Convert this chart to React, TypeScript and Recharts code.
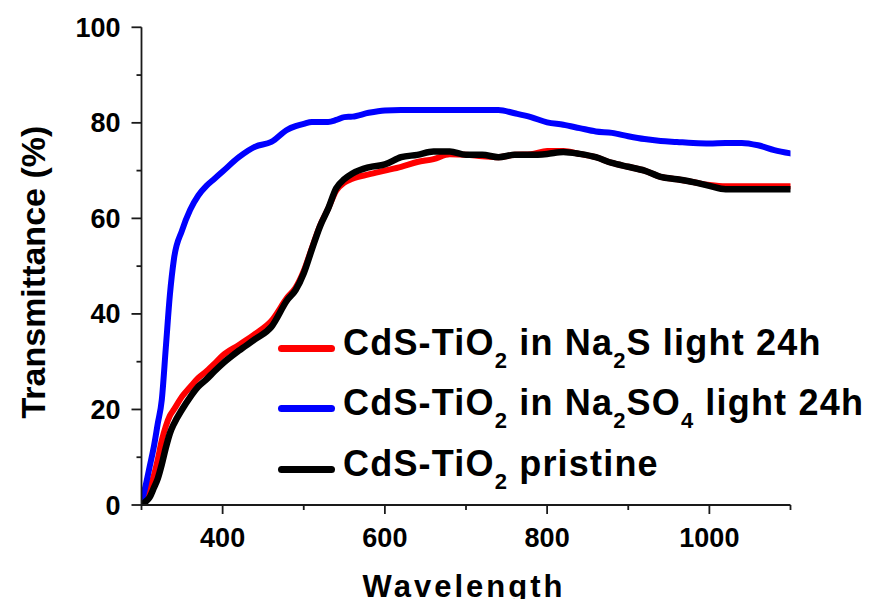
import React from 'react';
import { LineChart, Line, XAxis, YAxis, Legend, Label } from 'recharts';

const wavelengths = [300, 305, 310, 315, 320, 325, 330, 335, 340, 350, 360, 370, 380, 390, 400, 420, 440, 460, 480, 490, 500, 510, 520, 530, 540, 550, 560, 580, 600, 620, 640, 660, 680, 700, 720, 740, 760, 780, 800, 820, 840, 860, 880, 900, 920, 940, 960, 980, 1000, 1020, 1040, 1060, 1080, 1100];

const naSValues = [0.3, 1.5, 3.5, 6, 9.5, 13.5, 16.5, 18.7, 20, 22.7, 24.7, 26.6, 28, 29.6, 31.3, 33.5, 35.8, 38.5, 43.5, 45.5, 49, 53.8, 58.5, 62, 65.8, 67.5, 68.3, 69.2, 70, 70.8, 71.8, 72.4, 73.4, 73.3, 73, 72.8, 73.3, 73.4, 74.1, 74.1, 73.5, 72.8, 71.6, 70.8, 70, 68.7, 68.2, 67.6, 67, 66.7, 66.7, 66.7, 66.7, 66.7];

const naSO4Values = [0.5, 4, 8, 12, 17, 22, 33, 44, 51.5, 57.5, 61.8, 64.8, 66.8, 68.3, 69.8, 72.8, 75, 76, 78.6, 79.3, 79.8, 80.2, 80.2, 80.2, 80.6, 81.2, 81.3, 82.1, 82.6, 82.7, 82.7, 82.7, 82.7, 82.7, 82.7, 82.7, 82, 81.2, 80.1, 79.6, 78.9, 78.2, 77.9, 77.2, 76.6, 76.2, 76, 75.8, 75.7, 75.8, 75.8, 75.3, 74.3, 73.6];

const pristineValues = [0, 0.7, 1.6, 3.5, 5.5, 8.5, 12, 15, 17, 20, 22.6, 24.8, 26.3, 28, 29.6, 32.3, 34.7, 37.3, 43, 45, 48.5, 53.5, 58.3, 62, 66.3, 68.2, 69.4, 70.7, 71.3, 72.8, 73.3, 74, 74, 73.3, 73.3, 72.8, 73.3, 73.3, 73.5, 73.9, 73.5, 72.8, 71.6, 70.8, 70, 68.7, 68.2, 67.6, 66.8, 66.1, 66.1, 66.1, 66.1, 66.1];

const xTicks = [300, 400, 500, 600, 700, 800, 900, 1000, 1100];
const xLabelTicks = [400, 600, 800, 1000];
const yTicks = [0, 10, 20, 30, 40, 50, 60, 70, 80, 90, 100];
const yLabelTicks = [0, 20, 40, 60, 80, 100];

const seriesKeys = ['naS', 'naSO4', 'pristine'];
const seriesColors = ['#ff0000', '#0000ff', '#000000'];
const seriesWidths = [6, 6, 6.5];
// legend label pieces: [text, isSubscript]
const seriesLabels: [string, boolean][][] = [
  [['CdS-TiO', false], ['2', true], [' in Na', false], ['2', true], ['S light 24h', false]],
  [['CdS-TiO', false], ['2', true], [' in Na', false], ['2', true], ['SO', false], ['4', true], [' light 24h', false]],
  [['CdS-TiO', false], ['2', true], [' pristine', false]],
];

const xTitle = 'Wavelength';
const yTitle = 'Transmittance (%)';

const data = wavelengths.map((wl, i) => ({
  wl,
  naS: naSValues[i],
  naSO4: naSO4Values[i],
  pristine: pristineValues[i],
}));

const FONT = '"Liberation Sans", Arial, Helvetica, sans-serif';
const AXIS_COLOR = '#1a1a1a';

const XTick = (props: any) => {
  const { x, y, payload } = props;
  const v = payload.value;
  const major = xLabelTicks.includes(v);
  return (
    <g>
      <line x1={x} x2={x} y1={y} y2={y + (major ? 9 : 5)} stroke={AXIS_COLOR} strokeWidth={1.8} />
      {major && (
        <text x={x} y={y + 42} textAnchor="middle" fontFamily={FONT} fontWeight="bold" fontSize={27} fill="#000">
          {v}
        </text>
      )}
    </g>
  );
};

const YTick = (props: any) => {
  const { x, y, payload } = props;
  const v = payload.value;
  const major = yLabelTicks.includes(v);
  return (
    <g>
      <line x1={x - (major ? 10 : 5)} x2={x} y1={y} y2={y} stroke={AXIS_COLOR} strokeWidth={1.8} />
      {major && (
        <text x={x - 21} y={y + 9.5} textAnchor="end" fontFamily={FONT} fontWeight="bold" fontSize={27} fill="#000">
          {v}
        </text>
      )}
    </g>
  );
};

const XTitle = (props: any) => {
  const vb = props.viewBox || {};
  const cx = vb.x + vb.width / 2 - 2;
  const cy = vb.y + 92;
  return (
    <text x={cx} y={cy} textAnchor="middle" fontFamily={FONT} fontWeight="bold" fontSize={31} letterSpacing={3} fill="#000">
      {xTitle}
    </text>
  );
};

const YTitle = (props: any) => {
  const vb = props.viewBox || {};
  const cx = vb.x + vb.width - 96;
  const cy = vb.y + vb.height / 2 + 6;
  return (
    <text
      x={cx}
      y={cy}
      transform={`rotate(-90, ${cx}, ${cy})`}
      textAnchor="middle"
      fontFamily={FONT}
      fontWeight="bold"
      fontSize={34}
      fill="#000"
    >
      {yTitle}
    </text>
  );
};

const LegendContent = () => (
  <div style={{ fontFamily: FONT, fontWeight: 'bold', fontSize: 36, color: '#000', whiteSpace: 'nowrap' }}>
    {seriesLabels.map((parts, i) => (
      <div key={i} style={{ display: 'flex', alignItems: 'center', height: 60.5 }}>
        <div style={{ width: 57, height: 7, borderRadius: 3.5, background: seriesColors[i], marginRight: 8, marginTop: 6 }} />
        <div style={{ lineHeight: '36px', letterSpacing: 1.2 }}>
          {parts.map(([t, sub], j) =>
            sub ? (
              <span key={j} style={{ fontSize: 22, position: 'relative', top: 13, letterSpacing: 1 }}>
                {t}
              </span>
            ) : (
              <span key={j} style={{ whiteSpace: 'pre' }}>{t}</span>
            )
          )}
        </div>
      </div>
    ))}
  </div>
);

export default function App() {
  return (
    <div style={{ width: 856, marginBottom: -10 }}>
      <LineChart
        width={856}
        height={601}
        data={data}
        margin={{ top: 19.3, right: 73.5, bottom: 44, left: 73.5 }}
      >
        <XAxis
          dataKey="wl"
          type="number"
          domain={[300, 1100]}
          ticks={xTicks}
          interval={0}
          allowDataOverflow
          tickSize={0}
          tickMargin={0}
          tickLine={false}
          tick={<XTick />}
          height={60}
          axisLine={{ stroke: AXIS_COLOR, strokeWidth: 1.8 }}
        >
          <Label content={(p: any) => <XTitle {...p} />} />
        </XAxis>
        <YAxis
          type="number"
          domain={[0, 100]}
          ticks={yTicks}
          interval={0}
          allowDataOverflow
          tickSize={0}
          tickMargin={0}
          tickLine={false}
          tick={<YTick />}
          width={60}
          axisLine={{ stroke: AXIS_COLOR, strokeWidth: 1.8 }}
        >
          <Label content={(p: any) => <YTitle {...p} />} />
        </YAxis>
        <Legend
          layout="vertical"
          align="center"
          verticalAlign="middle"
          content={() => <LegendContent />}
          wrapperStyle={{ left: 270, top: 307, width: 600 }}
        />
        {seriesKeys.map((k, i) => (
          <Line
            key={k}
            dataKey={k}
            type="monotone"
            stroke={seriesColors[i]}
            strokeWidth={seriesWidths[i]}
            strokeLinejoin="round"
            strokeLinecap="round"
            dot={false}
            activeDot={false}
            isAnimationActive={false}
          />
        ))}
      </LineChart>
    </div>
  );
}
